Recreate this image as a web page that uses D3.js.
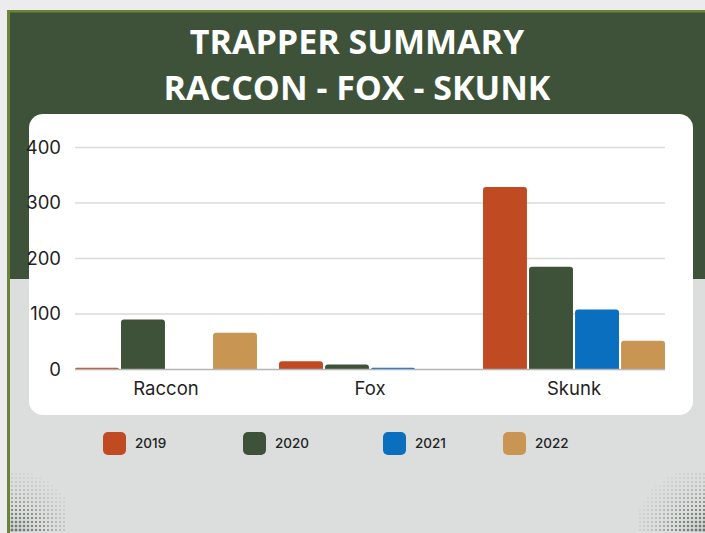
<!DOCTYPE html>
<html>
<head>
<meta charset="utf-8">
<script src="https://cdn.jsdelivr.net/npm/d3@7"></script>
<style>
  html, body { margin: 0; padding: 0; background: #ececee; }
  svg { display: block; }
</style>
</head>
<body>
<svg id="chart" width="705" height="533"></svg>
<script>
// Trapper summary data: animals taken per year
const categories = ["Raccon", "Fox", "Skunk"];
const years = ["2019", "2020", "2021", "2022"];
const values2019 = [3, 15, 329];
const values2020 = [90, 9, 185];
const values2021 = [0, 3, 108];
const values2022 = [66, 0, 52];
const yTicks = [0, 100, 200, 300, 400];
const titleLines = ["TRAPPER SUMMARY", "RACCON - FOX - SKUNK"];

const seriesByYear = { "2019": values2019, "2020": values2020, "2021": values2021, "2022": values2022 };
const colors = d3.scaleOrdinal().domain(years).range(["#c04b22", "#3d5239", "#0a6fbf", "#c99553"]);

const W = 705, H = 533;
const svg = d3.select("#chart");
const axisFont = "Inter, 'Open Sans', sans-serif";

// ---- page frame ----
svg.append("rect").attr("x", 0).attr("y", 0).attr("width", W).attr("height", H).attr("fill", "#ececee");
svg.append("rect").attr("x", 8).attr("y", 11).attr("width", W - 8).attr("height", H - 11).attr("fill", "#dcdedd");
svg.append("rect").attr("x", 8).attr("y", 11).attr("width", W - 8).attr("height", 268).attr("fill", "#3d5239");
svg.append("rect").attr("x", 7).attr("y", 10).attr("width", W - 7).attr("height", 2.5).attr("fill", "#6b8538");
svg.append("rect").attr("x", 7).attr("y", 10).attr("width", 3).attr("height", H - 10).attr("fill", "#6b8538");

// halftone dot corners
function halftone(x0, x1, y0, y1, cornerX, cornerY, reach) {
  const g = svg.append("g");
  for (let x = x0; x <= x1; x += 4) {
    for (let y = y0; y <= y1; y += 4) {
      const d = Math.hypot(x - cornerX, y - cornerY) / reach;
      if (d >= 1) continue;
      const s = 2.4 * (1 - d) + 0.8;
      g.append("rect")
        .attr("x", x - s / 2).attr("y", y - s / 2)
        .attr("width", s).attr("height", s)
        .attr("fill", "#4f5d50")
        .attr("opacity", 0.3 + 0.65 * (1 - d));
    }
  }
}
halftone(12, 64, 474, 533, 8, 545, 75);
halftone(640, 705, 474, 533, 710, 545, 80);

// ---- title ----
svg.selectAll("text.title").data(titleLines).join("text")
  .attr("class", "title")
  .attr("x", 357).attr("y", (d, i) => 54 + i * 46)
  .attr("text-anchor", "middle")
  .attr("fill", "#ffffff")
  .attr("font-family", "'Open Sans', sans-serif")
  .attr("font-weight", 700)
  .attr("font-size", 34)
  .text(d => d);

// ---- card ----
svg.append("rect").attr("x", 29).attr("y", 114).attr("width", 664).attr("height", 301)
  .attr("rx", 14).attr("fill", "#ffffff");

// ---- scales ----
const plot = { left: 75, right: 665, top: 147.5, bottom: 369.5 };
const y = d3.scaleLinear().domain([0, 400]).range([plot.bottom, plot.top]);
const x0 = d3.scaleBand().domain(categories).range([plot.left, plot.right])
  .paddingInner(0.108).paddingOuter(0);
const x1 = d3.scaleBand().domain(years).range([0, x0.bandwidth()]).paddingInner(0.045);

// gridlines
svg.append("g").selectAll("line").data(yTicks.filter(t => t > 0)).join("line")
  .attr("x1", plot.left).attr("x2", plot.right)
  .attr("y1", d => y(d)).attr("y2", d => y(d))
  .attr("stroke", "#dadada").attr("stroke-width", 1.3);

// y axis labels
const yAxis = svg.append("g").attr("transform", `translate(61,0)`)
  .call(d3.axisLeft(y).tickValues(yTicks).tickSize(0).tickPadding(0));
yAxis.select(".domain").remove();
yAxis.selectAll("text")
  .attr("font-family", axisFont)
  .attr("font-size", 18.5)
  .attr("fill", "#1f1f1f");

// bars with rounded tops
function topRounded(x, yTop, w, h, r) {
  r = Math.min(r, h, w / 2);
  if (h <= 0) return "";
  return `M${x},${yTop + h}V${yTop + r}Q${x},${yTop} ${x + r},${yTop}H${x + w - r}Q${x + w},${yTop} ${x + w},${yTop + r}V${yTop + h}Z`;
}
const groups = svg.append("g").selectAll("g").data(categories).join("g")
  .attr("transform", d => `translate(${x0(d)},0)`);
groups.selectAll("path")
  .data((c, ci) => years.map(yr => ({ yr, v: seriesByYear[yr][ci] })))
  .join("path")
  .attr("fill", d => colors(d.yr))
  .attr("d", d => topRounded(x1(d.yr), y(d.v), x1.bandwidth(), y(0) - y(d.v), 3));

// baseline
svg.append("line").attr("x1", plot.left).attr("x2", plot.right)
  .attr("y1", y(0)).attr("y2", y(0))
  .attr("stroke", "#b4b4b4").attr("stroke-width", 1.5);

// category labels
const xAxis = svg.append("g").attr("transform", `translate(0,${y(0) + 12})`)
  .call(d3.axisBottom(x0).tickSize(0).tickPadding(0));
xAxis.select(".domain").remove();
xAxis.selectAll("text")
  .attr("font-family", axisFont)
  .attr("font-size", 18.5)
  .attr("fill", "#1f1f1f");

// ---- legend ----
const legendX = d3.scaleOrdinal().domain(years).range([103, 243, 383, 503]);
const legend = svg.append("g").selectAll("g").data(years).join("g")
  .attr("transform", d => `translate(${legendX(d)},432)`);
legend.append("rect").attr("width", 23).attr("height", 23).attr("rx", 5)
  .attr("fill", d => colors(d));
legend.append("text").attr("x", 32).attr("y", 16)
  .attr("font-family", axisFont)
  .attr("font-weight", 500)
  .attr("font-size", 13.5)
  .attr("fill", "#222")
  .text(d => d);
</script>
</body>
</html>
